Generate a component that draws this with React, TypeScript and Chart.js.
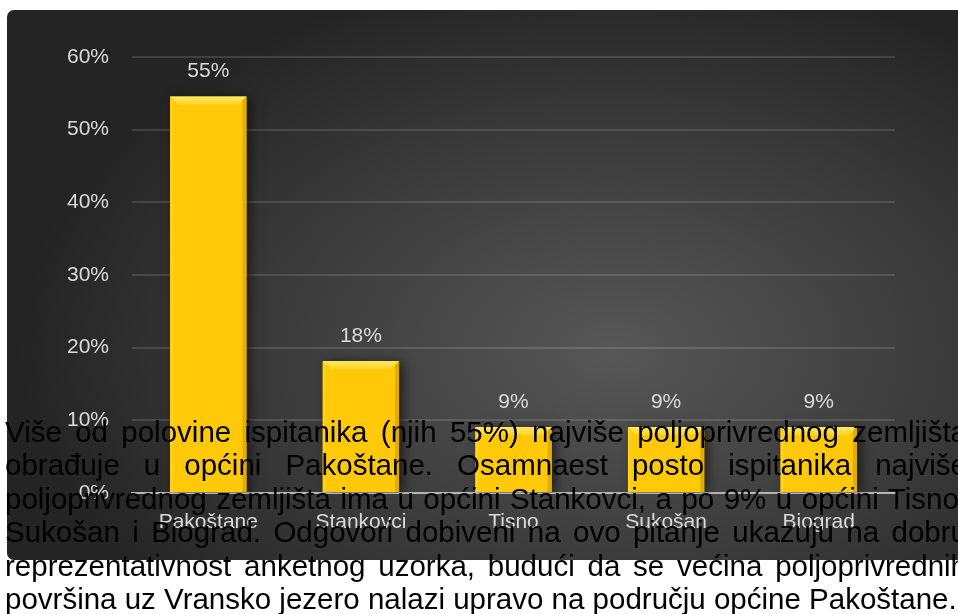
import React, { useEffect, useRef } from "react";
import { Chart, registerables } from "chart.js";

Chart.register(...registerables);

// Survey: municipality where respondents farm most of their land
const municipalities = ["Pakoštane", "Stankovci", "Tisno", "Sukošan", "Biograd"];
const shares = [54.55, 18.18, 9.09, 9.09, 9.09];
const yTicks = [0, 10, 20, 30, 40, 50, 60];

const paragraphLines = [
  "Više od polovine ispitanika (njih 55%) najviše poljoprivrednog zemljišta",
  "obrađuje u općini Pakoštane. Osamnaest posto ispitanika najviše",
  "poljoprivrednog zemljišta ima u općini Stankovci, a po 9% u općini Tisno,",
  "Sukošan i Biograd. Odgovori dobiveni na ovo pitanje ukazuju na dobru",
  "reprezentativnost anketnog uzorka, budući da se većina poljoprivrednih",
  "površina uz Vransko jezero nalazi upravo na području općine Pakoštane.",
];

const LABEL_FONT = "'Liberation Sans', Arial, sans-serif";
const LABEL_SIZE = 21;
const LABEL_COLOR = "#dadada";

const pct = (v: number) => `${Math.round(v)}%`;

// Drop shadow behind the bars
const barShadow = {
  id: "barShadow",
  beforeDatasetDraw(chart: any) {
    const ctx = chart.ctx;
    ctx.save();
    ctx.shadowColor = "rgba(0,0,0,0.55)";
    ctx.shadowBlur = 10;
    ctx.shadowOffsetX = 4;
    ctx.shadowOffsetY = 1;
  },
  afterDatasetDraw(chart: any) {
    chart.ctx.restore();
  },
};

// Bevelled edges on top of each bar, plus value labels
const barBevel = {
  id: "barBevel",
  afterDatasetsDraw(chart: any) {
    const ctx = chart.ctx;
    const meta = chart.getDatasetMeta(0);
    const values = chart.data.datasets[0].data as number[];
    meta.data.forEach((bar: any, i: number) => {
      const { x, y, width, base } = bar.getProps(["x", "y", "width", "base"], true);
      const L = x - width / 2;
      const R = x + width / 2;
      const T = y;
      const B = base;
      const b = 8;
      ctx.save();
      // top bevel
      const g = ctx.createLinearGradient(0, T, 0, T + b);
      g.addColorStop(0, "#ffe866");
      g.addColorStop(1, "#ffd526");
      ctx.fillStyle = g;
      ctx.beginPath();
      ctx.moveTo(L, T);
      ctx.lineTo(R, T);
      ctx.lineTo(R - b, T + b);
      ctx.lineTo(L + b, T + b);
      ctx.closePath();
      ctx.fill();
      // left bevel
      ctx.fillStyle = "#ffd21c";
      ctx.beginPath();
      ctx.moveTo(L, T);
      ctx.lineTo(L + 3, T + 3);
      ctx.lineTo(L + 3, B);
      ctx.lineTo(L, B);
      ctx.closePath();
      ctx.fill();
      // right bevel
      ctx.fillStyle = "#e3ad00";
      ctx.beginPath();
      ctx.moveTo(R, T);
      ctx.lineTo(R, B);
      ctx.lineTo(R - 4, B);
      ctx.lineTo(R - 4, T + 4);
      ctx.closePath();
      ctx.fill();
      // value label
      ctx.fillStyle = LABEL_COLOR;
      ctx.font = `${LABEL_SIZE}px ${LABEL_FONT}`;
      ctx.textAlign = "center";
      ctx.textBaseline = "middle";
      ctx.fillText(pct(values[i]), x, T - 25);
      ctx.restore();
    });
  },
};

function SurveyChart() {
  const canvasRef = useRef<HTMLCanvasElement | null>(null);

  useEffect(() => {
    if (!canvasRef.current) return;
    const chart = new Chart(canvasRef.current, {
      type: "bar",
      data: {
        labels: municipalities,
        datasets: [
          {
            data: shares,
            backgroundColor: "#ffc907",
            borderWidth: 0,
            barPercentage: 0.5,
            categoryPercentage: 1,
          },
        ],
      },
      options: {
        animation: false,
        responsive: false,
        maintainAspectRatio: false,
        layout: { padding: { top: 47, right: 63, bottom: 0, left: 0 } },
        plugins: {
          legend: { display: false },
          tooltip: { enabled: false },
        },
        scales: {
          x: {
            grid: { display: false, drawTicks: false },
            border: { display: true, color: "#b5b5b5", width: 2 },
            ticks: {
              color: LABEL_COLOR,
              font: { size: LABEL_SIZE, family: LABEL_FONT },
              padding: 17,
            },
            afterFit(scale: any) {
              scale.height = 67;
            },
          },
          y: {
            min: 0,
            max: 60,
            afterBuildTicks(scale: any) {
              scale.ticks = yTicks.map((v) => ({ value: v }));
            },
            grid: {
              color: "rgba(255,255,255,0.13)",
              lineWidth: 2,
              drawTicks: false,
            },
            border: { display: false },
            ticks: {
              color: LABEL_COLOR,
              font: { size: LABEL_SIZE, family: LABEL_FONT },
              padding: 23,
              callback: (v: any) => `${v}%`,
            },
            afterFit(scale: any) {
              scale.width = 125;
            },
          },
        },
      },
      plugins: [barShadow, barBevel],
    });
    return () => chart.destroy();
  }, []);

  return <canvas ref={canvasRef} width={951} height={550} style={{ display: "block" }} />;
}

export default function App() {
  return (
    <div
      style={{
        position: "absolute",
        left: 0,
        top: 0,
        width: 958,
        height: 614,
        overflow: "hidden",
        background: "#ffffff",
      }}
    >
      <div
        style={{
          position: "absolute",
          left: 7,
          top: 10,
          width: 962,
          height: 550,
          borderRadius: 7,
          overflow: "hidden",
          background:
            "radial-gradient(ellipse 62% 70% at 63% 62%, #575757 0%, #3f3f3f 48%, #242424 100%)",
        }}
      >
        <SurveyChart />
      </div>
      <div
        style={{
          position: "absolute",
          left: 5,
          top: 415,
          width: 962,
          fontFamily: "'Liberation Sans', Arial, sans-serif",
          fontSize: 29.5,
          lineHeight: "33.4px",
          color: "#000000",
        }}
      >
        {paragraphLines.map((line, i) => (
          <div
            key={i}
            style={{
              whiteSpace: "nowrap",
              textAlign: "justify",
              textAlignLast: i === paragraphLines.length - 1 ? "left" : "justify",
            }}
          >
            {line}
          </div>
        ))}
      </div>
    </div>
  );
}
